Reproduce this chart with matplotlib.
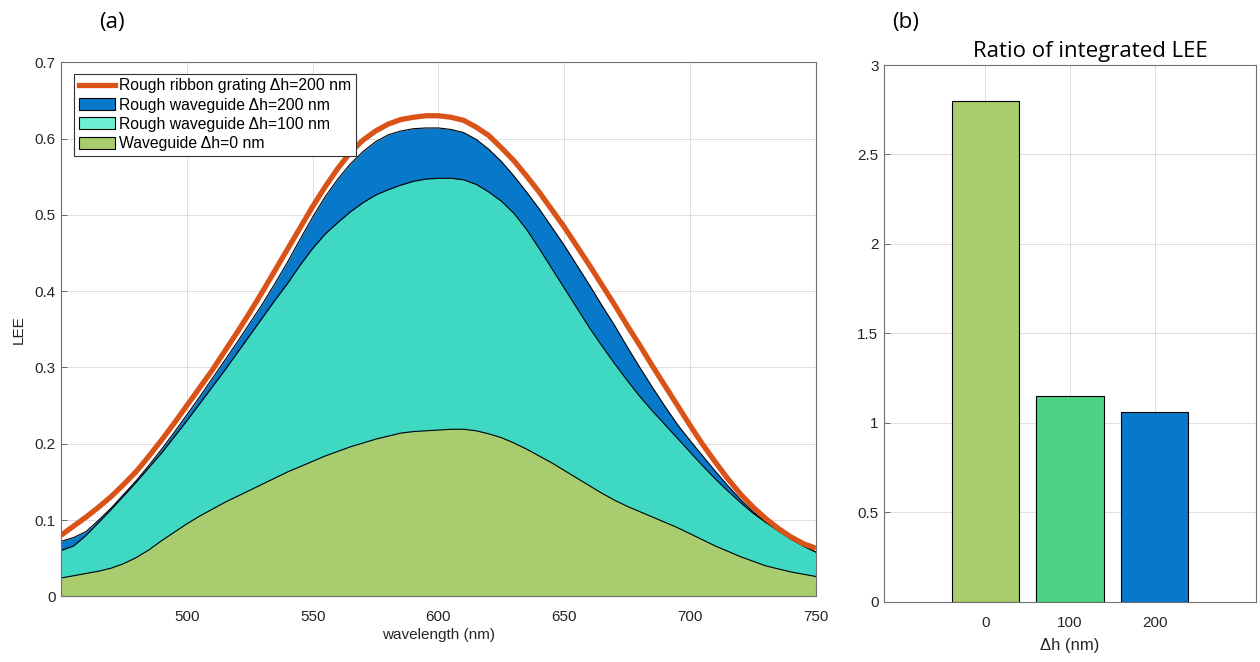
import matplotlib
matplotlib.use("Agg")
import matplotlib.pyplot as plt
from matplotlib.patches import Patch
from matplotlib.lines import Line2D
from matplotlib.ticker import FuncFormatter

plt.rcParams['font.family'] = ['Liberation Sans', 'DejaVu Sans']

# LEE spectra, 450-750 nm in 5 nm steps
wavelength = list(range(450, 755, 5))

ribbon_200 = [0.080, 0.092, 0.104, 0.117, 0.131, 0.147, 0.164, 0.184, 0.205, 0.227,
              0.250, 0.273, 0.296, 0.321, 0.346, 0.372, 0.399, 0.427, 0.455, 0.483,
              0.511, 0.537, 0.561, 0.582, 0.598, 0.610, 0.619, 0.625, 0.628, 0.630,
              0.630, 0.628, 0.624, 0.615, 0.604, 0.588, 0.571, 0.551, 0.530, 0.507,
              0.484, 0.459, 0.434, 0.408, 0.382, 0.355, 0.329, 0.302, 0.276, 0.250,
              0.224, 0.199, 0.176, 0.154, 0.134, 0.117, 0.102, 0.089, 0.078, 0.069,
              0.063]

wg_200 = [0.072, 0.077, 0.085, 0.100, 0.116, 0.134, 0.152, 0.172, 0.193, 0.215,
          0.238, 0.261, 0.285, 0.309, 0.333, 0.358, 0.383, 0.410, 0.438, 0.468,
          0.497, 0.524, 0.547, 0.567, 0.583, 0.596, 0.605, 0.610, 0.613, 0.614,
          0.614, 0.612, 0.608, 0.599, 0.586, 0.570, 0.551, 0.530, 0.508, 0.484,
          0.460, 0.434, 0.408, 0.381, 0.355, 0.327, 0.300, 0.274, 0.249, 0.225,
          0.204, 0.184, 0.164, 0.145, 0.127, 0.111, 0.098, 0.086, 0.076, 0.066,
          0.058]

wg_100 = [0.060, 0.066, 0.080, 0.097, 0.114, 0.132, 0.150, 0.169, 0.188, 0.209,
          0.230, 0.252, 0.274, 0.296, 0.319, 0.342, 0.365, 0.388, 0.410, 0.434,
          0.456, 0.475, 0.490, 0.504, 0.516, 0.526, 0.533, 0.539, 0.544, 0.547,
          0.548, 0.548, 0.546, 0.540, 0.530, 0.518, 0.502, 0.481, 0.456, 0.430,
          0.404, 0.378, 0.352, 0.328, 0.305, 0.283, 0.262, 0.243, 0.225, 0.207,
          0.189, 0.171, 0.154, 0.138, 0.123, 0.109, 0.097, 0.086, 0.075, 0.066,
          0.058]

wg_0 = [0.024, 0.027, 0.030, 0.033, 0.037, 0.043, 0.051, 0.061, 0.073, 0.084,
        0.095, 0.105, 0.114, 0.123, 0.131, 0.139, 0.147, 0.155, 0.163, 0.170,
        0.177, 0.184, 0.190, 0.196, 0.201, 0.206, 0.210, 0.214, 0.216, 0.217,
        0.218, 0.219, 0.219, 0.217, 0.213, 0.208, 0.201, 0.193, 0.184, 0.175,
        0.165, 0.155, 0.145, 0.135, 0.126, 0.118, 0.111, 0.104, 0.097, 0.090,
        0.082, 0.074, 0.066, 0.059, 0.052, 0.046, 0.040, 0.036, 0.032, 0.029,
        0.026]

# integrated LEE ratio per roughness
dh_labels = ["0", "100", "200"]
ratio = [2.80, 1.15, 1.06]

c_orange = "#D95319"
c_blue = "#0878CA"
c_turq = "#3ED8C3"
c_green = "#A8CC6E"
c_bar100 = "#4DD384"
ax_col = "#262626"

fig = plt.figure(figsize=(12.6, 6.62), dpi=100)

# ---- (a) spectra ----
ax1 = fig.add_axes([0.0484, 0.0992, 0.5992, 0.8066])
ax1.fill_between(wavelength, 0, wg_200, color=c_blue, lw=0)
ax1.plot(wavelength, wg_200, color="black", lw=0.8)
ax1.fill_between(wavelength, 0, wg_100, color=c_turq, lw=0)
ax1.plot(wavelength, wg_100, color="black", lw=0.8)
ax1.fill_between(wavelength, 0, wg_0, color=c_green, lw=0)
ax1.plot(wavelength, wg_0, color="black", lw=0.8)
ax1.plot(wavelength, ribbon_200, color=c_orange, lw=3.8, solid_capstyle="butt")

ax1.set_xlim(450, 750)
ax1.set_ylim(0, 0.7)
ax1.set_xticks([500, 550, 600, 650, 700, 750])
ax1.set_yticks([0, 0.1, 0.2, 0.3, 0.4, 0.5, 0.6, 0.7])
ax1.set_xlabel("wavelength (nm)", fontsize=11, color=ax_col, labelpad=3)
ax1.set_ylabel("LEE", fontsize=11, color=ax_col, labelpad=6)

handles = [
    Line2D([], [], color=c_orange, lw=3.8),
    Patch(facecolor=c_blue, edgecolor="black", lw=0.8),
    Patch(facecolor="#6CF0D2", edgecolor="black", lw=0.8),
    Patch(facecolor=c_green, edgecolor="black", lw=0.8),
]
labels = ["Rough ribbon grating \u0394h=200 nm",
          "Rough waveguide \u0394h=200 nm",
          "Rough waveguide \u0394h=100 nm",
          "Waveguide \u0394h=0 nm"]
leg = ax1.legend(handles, labels, loc="upper left", bbox_to_anchor=(0.017, 0.979),
                 fontsize=11.3, fancybox=False, framealpha=1, edgecolor="#333333",
                 handlelength=2.35, handleheight=0.8, handletextpad=0.25,
                 labelspacing=0.27, borderpad=0.3, borderaxespad=0)
leg.get_frame().set_linewidth(0.8)

# ---- (b) bars ----
ax2 = fig.add_axes([0.7016, 0.0911, 0.2952, 0.8107])
ax2.bar(range(len(ratio)), ratio, width=0.8,
        color=[c_green, c_bar100, c_blue], edgecolor="black", lw=0.8, zorder=3)
ax2.set_xlim(-1.2, 3.2)
ax2.set_ylim(0, 3)
ax2.set_xticks(range(len(ratio)))
ax2.set_xticklabels(dh_labels)
ax2.set_yticks([0, 0.5, 1, 1.5, 2, 2.5, 3])
ax2.set_xlabel("\u0394h (nm)", fontsize=12, color=ax_col, labelpad=6)
ax2.set_title("Ratio of integrated LEE", fontsize=16, family=["Open Sans", "DejaVu Sans"],
              color="black", pad=6, x=0.554)

fmt = FuncFormatter(lambda v, p: f"{v:g}")
for ax in (ax1, ax2):
    ax.yaxis.set_major_formatter(fmt)
    ax.grid(True, color=ax_col, alpha=0.15, lw=0.7)
    ax.set_axisbelow(True)
    ax.tick_params(direction="in", length=4, width=0.6, colors="#555555",
                   labelcolor=ax_col, labelsize=11)
    ax.tick_params(axis="x", pad=10)
    ax.tick_params(axis="y", pad=4)
    for sp in ax.spines.values():
        sp.set_color("#707070")
        sp.set_linewidth(0.8)

fig.text(0.0889, 0.966, "(a)", fontsize=16, family=["Open Sans", "DejaVu Sans"], va="center", ha="center")
fig.text(0.7190, 0.966, "(b)", fontsize=16, family=["Open Sans", "DejaVu Sans"], va="center", ha="center")

fig.savefig("out.png", dpi=100)
